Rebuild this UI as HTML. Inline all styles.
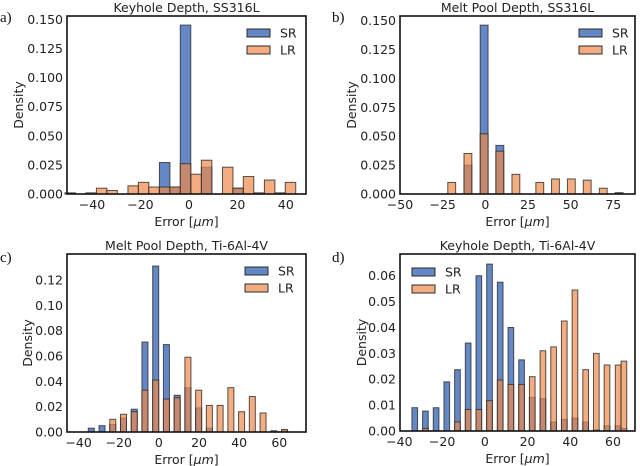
<!DOCTYPE html>
<html><head><meta charset="utf-8"><style>
body{margin:0;background:#fff;}
svg{display:block;font-family:"DejaVu Sans","Liberation Sans",sans-serif;}
</style></head><body>
<svg id="fig" width="640" height="466" viewBox="0 0 640 466" xmlns="http://www.w3.org/2000/svg"></svg>
<script>
// Panel a: Keyhole Depth, SS316L
const aCenters=[-49.0,-40.3,-36.0,-31.7,-23.0,-18.7,-14.4,-10.0,-5.7,-1.4,3.0,7.3,16.0,20.3,24.6,28.95,33.3,37.6,41.9];
const aSR=[0.001,0.001,0,0,0,0,0,0.027,0.006,0.145,0,0.023,0,0.005,0,0.001,0,0.001,0];
const aLR=[0,0,0.005,0.003,0.007,0.010,0.006,0.006,0.006,0.026,0.017,0.029,0.023,0.005,0.015,0,0.012,0,0.010];
const aYTicks=[0,0.025,0.05,0.075,0.1,0.125,0.15];
const aYLabels=["0.000","0.025","0.050","0.075","0.100","0.125","0.150"];
const aXTicks=[-40,-20,0,20,40];
// Panel b: Melt Pool Depth, SS316L
const bCenters=[-19.7,-10.2,-0.7,8.5,17.9,31.9,41.1,50.4,59.7,69.1,78.4];
const bSR=[0,0.025,0.146,0.042,0,0,0,0,0,0,0.001];
const bLR=[0.010,0.035,0.052,0.037,0.017,0.010,0.013,0.013,0.012,0.005,0.001];
const bYTicks=[0,0.025,0.05,0.075,0.1,0.125,0.15];
const bYLabels=["0.000","0.025","0.050","0.075","0.100","0.125","0.150"];
const bXTicks=[-50,-25,0,25,50,75];
// Panel c: Melt Pool Depth, Ti-6Al-4V
const cCenters=[-33.7,-28.35,-23.0,-17.65,-12.3,-6.95,-1.6,3.75,9.1,14.45,19.8,25.15,30.5,35.85,41.2,46.55,51.9,57.25,62.6];
const cSR=[0.003,0.005,0.006,0.011,0.018,0.071,0.131,0.069,0.029,0.035,0.019,0.003,0,0,0,0,0,0,0.001];
const cLR=[0,0,0.010,0.014,0.016,0.033,0.041,0.026,0.027,0.059,0.033,0.021,0.021,0.035,0.016,0.028,0.015,0.001,0.002];
const cYTicks=[0,0.02,0.04,0.06,0.08,0.1,0.12];
const cYLabels=["0.00","0.02","0.04","0.06","0.08","0.10","0.12"];
const cXTicks=[-40,-20,0,20,40,60];
// Panel d: Keyhole Depth, Ti-6Al-4V
const dCenters=[-32.8,-27.8,-22.8,-17.8,-12.8,-7.8,-2.8,2.2,7.2,12.2,17.2,22.2,27.2,32.2,37.2,42.2,47.2,52.2,57.2,62.4,65.1];
const dSR=[0.009,0.0077,0.009,0.019,0.0237,0.034,0.060,0.0645,0.0575,0.040,0.0275,0.013,0.0125,0.0035,0.0045,0.005,0.0035,0.0005,0.002,0.002,0.001];
const dLR=[0,0.001,0,0,0.0035,0.0083,0.0083,0.0117,0.0197,0.018,0.018,0.021,0.031,0.0325,0.0425,0.0545,0.0237,0.030,0.0255,0.0255,0.027];
const dYTicks=[0,0.01,0.02,0.03,0.04,0.05,0.06];
const dYLabels=["0.00","0.01","0.02","0.03","0.04","0.05","0.06"];
const dXTicks=[-40,-20,0,20,40,60];

const NS="http://www.w3.org/2000/svg";
const fig=document.getElementById('fig');
function mk(tag,attrs,parent,text){const e=document.createElementNS(NS,tag);for(const k in attrs)e.setAttribute(k,attrs[k]);if(text!==undefined)e.textContent=text;(parent||fig).appendChild(e);return e;}

function panel(p){
  const g=mk('g',{});
  
  
  const sx=v=>p.x0+(v-p.xmin)/(p.xmax-p.xmin)*(p.x1-p.x0);
  const sy=v=>p.y1-(v-0)/(p.ymax)*(p.y1-p.y0);
  const hw=p.bw/2;
  // SR bars
  p.centers.forEach((c,i)=>{
    if(p.sr[i]>0){
      const r=mk('rect',{x:sx(c-hw),y:sy(p.sr[i]),width:sx(c+hw)-sx(c-hw),height:p.y1-sy(p.sr[i]),fill:'#4f76bd','fill-opacity':0.88,stroke:'#2b2b2b','stroke-opacity':0.8,'stroke-width':1},g);
      
      
    }
  });
  p.centers.forEach((c,i)=>{
    if(p.lr[i]>0){
      const r=mk('rect',{x:sx(c-hw),y:sy(p.lr[i]),width:sx(c+hw)-sx(c-hw),height:p.y1-sy(p.lr[i]),fill:'#f08a4b','fill-opacity':0.7,stroke:'#2b2b2b','stroke-opacity':0.8,'stroke-width':1},g);
      
      
    }
  });
  const box=mk('rect',{x:p.x0,y:p.y0,width:p.x1-p.x0,height:p.y1-p.y0,fill:'none',stroke:'#111','stroke-width':1.6},g);
  
  
  p.yt.forEach((v,i)=>{
    const t=mk('text',{x:p.x0-4,y:sy(v)+4.5,'text-anchor':'end','font-size':12.5,fill:'#222'},g,p.yl[i]);
    
    
  });
  p.xt.forEach(v=>{
    const t=mk('text',{x:sx(v),y:p.y1+15,'text-anchor':'middle','font-size':12.5,fill:'#222'},g,(v<0?'\u2212'+(-v):''+v));
    
    
  });
  const tt=mk('text',{x:(p.x0+p.x1)/2,y:p.y0-4,'text-anchor':'middle','font-size':12.5,fill:'#222'},g,p.title);
  
  
  const xl=mk('text',{x:(p.x0+p.x1)/2,y:p.y1+32,'text-anchor':'middle','font-size':12.5,fill:'#222'},g);
  
  
  xl.innerHTML='Error [<tspan font-style="italic">μm</tspan>]';
  const yl=mk('text',{x:p.ylx,y:(p.y0+p.y1)/2,'text-anchor':'middle','font-size':12.5,fill:'#222',transform:'rotate(-90 '+p.ylx+' '+(p.y0+p.y1)/2+')'},g,'Density');
  
  
  const pl=mk('text',{x:p.lx,y:p.ly,'font-size':15,'font-family':'"Liberation Serif",serif',fill:'#111'},g,p.id+')');
  
  
  // legend
  [['SR','#4f76bd',0.88],['LR','#f08a4b',0.7]].forEach((e,i)=>{
    const lg=mk('g',{},g);
    
    
    mk('rect',{x:p.legx,y:p.legy+i*17,width:23,height:8,fill:e[1],'fill-opacity':e[2],stroke:'#2b2b2b','stroke-width':1},lg);
    mk('text',{x:p.legx+33,y:p.legy+i*17+8.5,'font-size':12.5,fill:'#222'},lg,e[0]);
  });
}
panel({id:'a',title:'Keyhole Depth, SS316L',x0:67,x1:306,y0:16,y1:194,xmin:-50.3,xmax:48.3,ymax:0.1528,bw:4.33,centers:aCenters,sr:aSR,lr:aLR,yt:aYTicks,yl:aYLabels,xt:aXTicks,ylx:23,lx:0,ly:22,legx:247,legy:29});
panel({id:'b',title:'Melt Pool Depth, SS316L',x0:400,x1:635,y0:16,y1:194,xmin:-50,xmax:87.7,ymax:0.1539,bw:4.6,centers:bCenters,sr:bSR,lr:bLR,yt:bYTicks,yl:bYLabels,xt:bXTicks,ylx:356,lx:332,ly:22,legx:579,legy:29});
panel({id:'c',title:'Melt Pool Depth, Ti-6Al-4V',x0:67,x1:306,y0:254,y1:432,xmin:-45.8,xmax:73.3,ymax:0.1405,bw:3.0,centers:cCenters,sr:cSR,lr:cLR,yt:cYTicks,yl:cYLabels,xt:cXTicks,ylx:32,lx:0,ly:262,legx:245,legy:267});
panel({id:'d',title:'Keyhole Depth, Ti-6Al-4V',x0:400,x1:635,y0:254,y1:431,xmin:-39.7,xmax:70.3,ymax:0.0684,bw:2.65,centers:dCenters,sr:dSR,lr:dLR,yt:dYTicks,yl:dYLabels,xt:dXTicks,ylx:366,lx:332,ly:262,legx:412,legy:268});
</script>
</body></html>
